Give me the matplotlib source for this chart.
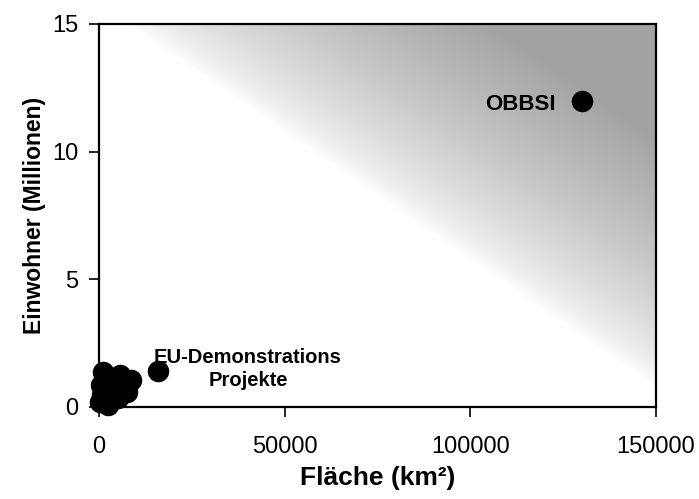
import numpy as np
import matplotlib.pyplot as plt

# Fläche (km²) und Einwohner (Millionen)
eu_area = [1000, 500, 200, 2400, 5100, 7500, 8600, 5600, 3500, 3000, 800]
eu_pop = [1.37, 0.86, 0.2, 0.08, 0.35, 0.59, 1.06, 1.25, 1.06, 0.59, 0.47]
single_area = [16000]
single_pop = [1.4]
obbsi_area = [130000]
obbsi_pop = [12.0]

xticks = [0, 50000, 100000, 150000]
yticks = [0, 5, 10, 15]

plt.rcParams['font.family'] = ['Liberation Sans', 'DejaVu Sans']

fig = plt.figure(figsize=(6.99, 4.99), dpi=100)
ax = fig.add_axes([0.1416, 0.1844, 0.797, 0.7676])

# grey diagonal shading (darker to the upper right)
u, v = np.meshgrid(np.linspace(0, 1, 400), np.linspace(0, 1, 300))
s = np.clip((u + v - 1.05) / 0.65, 0, 1)
shade = 1 - 0.36 * s ** 0.7
ax.imshow(shade, cmap='gray', vmin=0, vmax=1, origin='lower',
          extent=[0, 150000, 0, 15], aspect='auto', zorder=0)

ax.scatter(eu_area, eu_pop, s=210, color='black', zorder=3, clip_on=False)
ax.scatter(single_area, single_pop, s=210, color='black', zorder=3)
ax.scatter(obbsi_area, obbsi_pop, s=210, color='black', zorder=3)

ax.text(40100, 1.49, 'EU-Demonstrations\nProjekte', ha='center', va='center',
        multialignment='center', fontsize=14.5, fontweight='bold', linespacing=1.3)
ax.text(113400, 11.84, 'OBBSI', ha='center', va='center',
        fontsize=16, fontweight='bold')

ax.set_xlim(0, 150000)
ax.set_ylim(0, 15)
ax.set_xticks(xticks)
ax.set_yticks(yticks)
ax.tick_params(labelsize=17, length=7, width=1.2)
ax.tick_params(axis='x', pad=14)
ax.tick_params(axis='y', pad=8)
for sp in ax.spines.values():
    sp.set_linewidth(1.6)

ax.set_xlabel('Fläche (km²)', fontsize=19, fontweight='bold', labelpad=6)
ax.set_ylabel('Einwohner (Millionen)', fontsize=16.5, fontweight='bold', labelpad=4)

fig.savefig('out.png', dpi=100)
